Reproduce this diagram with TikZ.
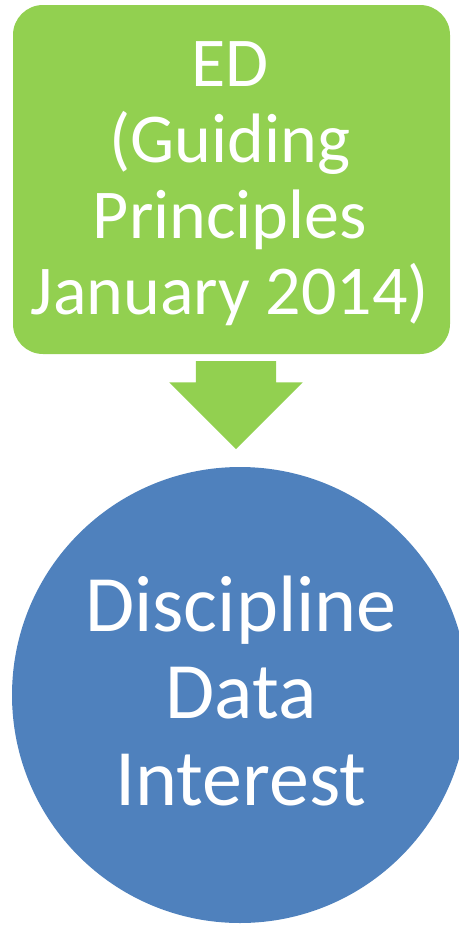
\documentclass[tikz,border=0pt]{standalone}
\usepackage{fontspec}
\setmainfont{Carlito}
\usepackage{xcolor}
\usepackage{tikz}
\usetikzlibrary{shapes,arrows,positioning,calc}
\definecolor{edgreen}{HTML}{92D050}
\definecolor{ddblue}{HTML}{4F81BD}

\begin{document}
\begin{tikzpicture}[x=1pt, y=-1pt,
    box/.style={fill=edgreen, rounded corners=30pt, minimum width=437pt, minimum height=349pt, inner sep=0pt},
    disc/.style={circle, fill=ddblue, minimum size=456pt, inner sep=0pt},
    flowarrow/.style={single arrow, fill=edgreen, shape border rotate=270, minimum height=88pt, inner xsep=40pt, inner ysep=0pt, single arrow head extend=26.5pt},
    bigtext/.style={text=white, align=center, inner sep=0pt}]
    \useasboundingbox (0,0) rectangle (458,926);
    \node [box] (ED) at (231.5,179.5) {};
    \node [bigtext, font=\fontsize{70}{76}\selectfont] (EDtext) at (230,184) {ED\\(Guiding\\Principles\\January 2014)};
    \node [flowarrow] (flow) at (236,385) {};
    \node [disc] (DDI) at (240,695) {};
    \node [bigtext, font=\fontsize{80}{87}\selectfont] (DDItext) at (241,691) {Discipline\\Data\\Interest};
\end{tikzpicture}
\end{document}
